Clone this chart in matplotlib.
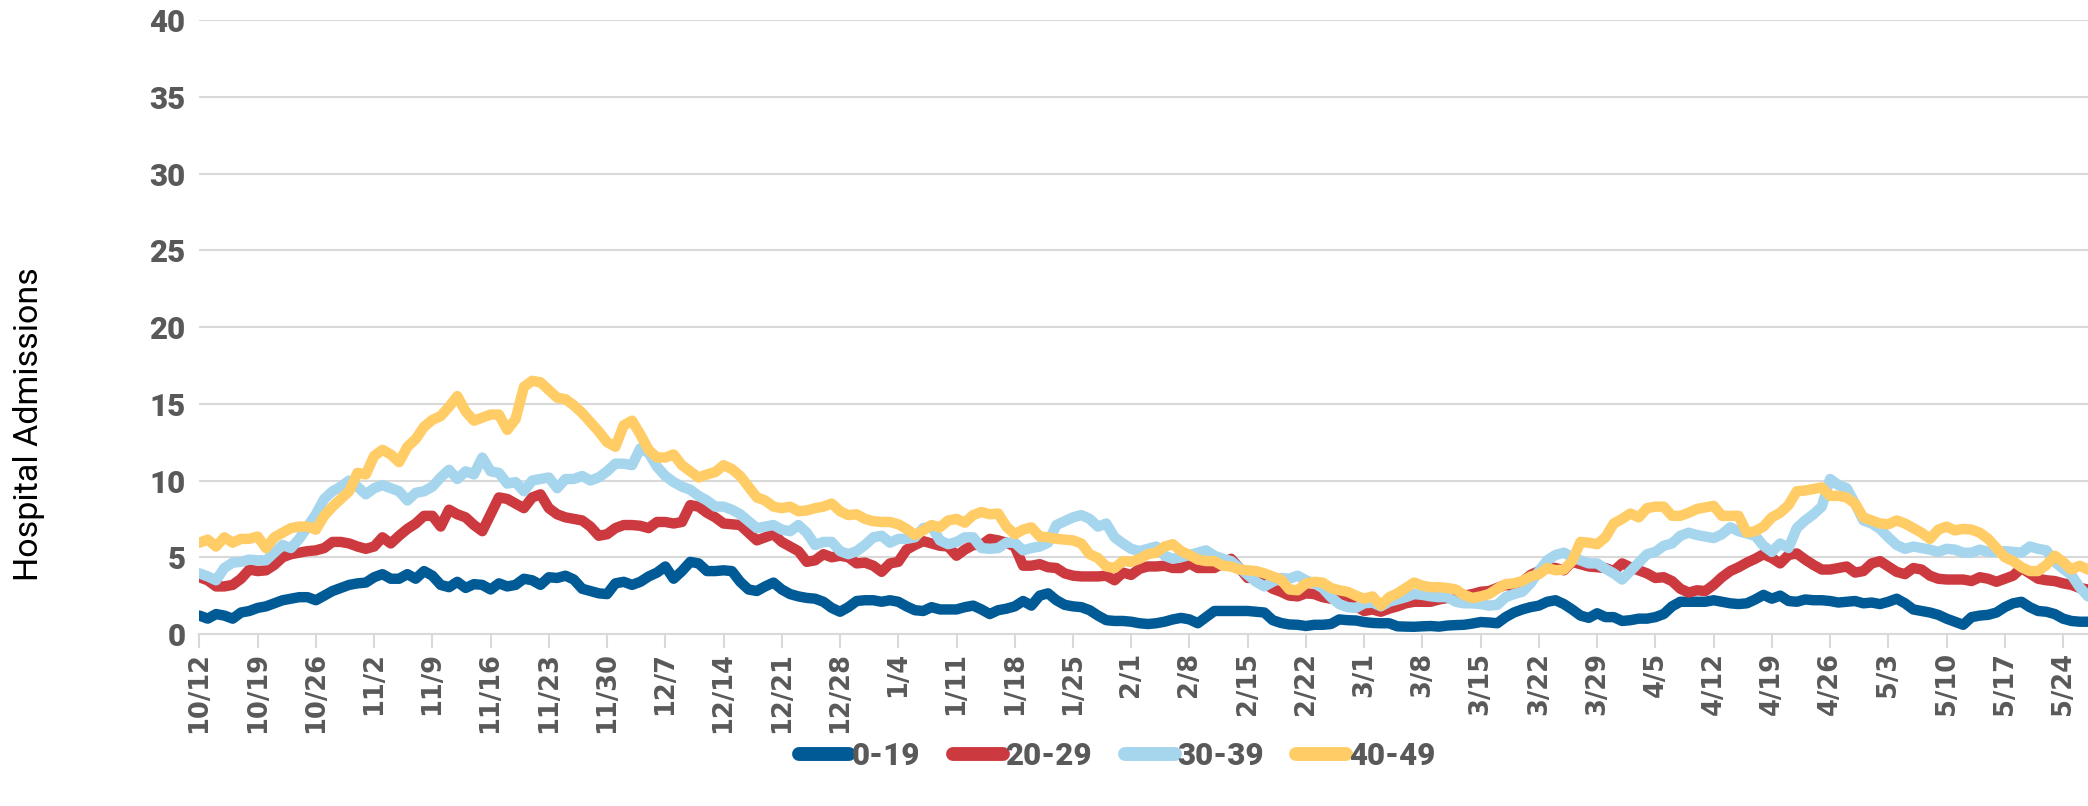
import numpy as np
import pandas as pd
import matplotlib
matplotlib.use("Agg")
import matplotlib.pyplot as plt

# daily admissions (7-day avg), 10/12 .. 5/27
start_date = "2020-10-12"
n_days = 228

age_0_19 = [
    1.2, 1.0, 1.3, 1.2, 1.0, 1.4, 1.5, 1.7, 1.8, 2.0, 2.2, 2.3, 2.4, 2.4, 2.2, 2.5, 2.8, 3.0, 3.2, 3.3,
    3.35, 3.7, 3.9, 3.6, 3.6, 3.9, 3.6, 4.1, 3.8, 3.2, 3.05, 3.4, 3.0,
    3.25, 3.2, 2.9, 3.3, 3.1, 3.2, 3.6, 3.5, 3.2, 3.7, 3.65, 3.8, 3.55, 2.95, 2.8, 2.65, 2.6, 3.3, 3.4, 3.2,
    3.4, 3.75, 4.0, 4.4, 3.6, 4.1, 4.7, 4.6, 4.1, 4.1, 4.15, 4.1,
    3.4, 2.9, 2.8, 3.1, 3.35, 2.9, 2.6, 2.45, 2.35, 2.3, 2.1, 1.7, 1.45, 1.75, 2.15, 2.2, 2.2, 2.1, 2.2, 2.1,
    1.8, 1.55, 1.5, 1.75, 1.6, 1.6, 1.6, 1.75, 1.85, 1.6, 1.3, 1.55, 1.65,
    1.8, 2.15, 1.85, 2.5, 2.65, 2.2, 1.9, 1.8, 1.75, 1.55, 1.2, 0.9, 0.85, 0.85, 0.8, 0.7, 0.65, 0.7, 0.8, 0.95,
    1.05, 0.95, 0.7, 1.1, 1.5, 1.5, 1.5, 1.5, 1.5, 1.45, 1.4,
    0.9, 0.72, 0.62, 0.6, 0.52, 0.6, 0.6, 0.65, 0.95, 0.9, 0.88, 0.78, 0.72, 0.7, 0.7, 0.5, 0.48, 0.47, 0.5, 0.52,
    0.48, 0.55, 0.58, 0.6, 0.68, 0.78, 0.75, 0.7, 1.1, 1.4, 1.6, 1.75, 1.85, 2.1,
    2.2, 1.95, 1.6, 1.2, 1.05, 1.35, 1.1, 1.1, 0.85, 0.9, 1.0, 1.0, 1.1, 1.3, 1.8, 2.1, 2.1, 2.1, 2.1, 2.2,
    2.1, 2.0, 1.95, 2.0, 2.25, 2.55, 2.3, 2.5, 2.15, 2.1, 2.25,
    2.2, 2.2, 2.15, 2.05, 2.1, 2.15, 2.0, 2.05, 1.95, 2.1, 2.3, 2.0, 1.6, 1.5, 1.4, 1.25, 1.0, 0.8, 0.6, 1.1,
    1.2, 1.25, 1.4, 1.75, 2.0, 2.1, 1.75, 1.5, 1.45, 1.3, 1.0, 0.85, 0.8, 0.8,
]

age_20_29 = [
    3.7, 3.5, 3.1, 3.1, 3.2, 3.6, 4.2, 4.1, 4.15, 4.5, 5.0, 5.2, 5.3, 5.4, 5.45, 5.6, 6.0, 6.0, 5.9, 5.7,
    5.55, 5.7, 6.3, 5.9, 6.4, 6.85, 7.2, 7.7, 7.7, 7.0, 8.1, 7.8,
    7.6, 7.1, 6.7, 7.8, 8.9, 8.8, 8.5, 8.2, 8.9, 9.1, 8.2, 7.8, 7.6, 7.5, 7.4, 7.0, 6.4, 6.5, 6.9, 7.1,
    7.1, 7.05, 6.9, 7.3, 7.3, 7.2, 7.3, 8.4, 8.3, 7.9, 7.6, 7.2, 7.15,
    7.1, 6.6, 6.1, 6.3, 6.5, 6.0, 5.7, 5.4, 4.7, 4.8, 5.2, 5.0, 5.1, 5.0, 4.6, 4.65, 4.45, 4.05, 4.6, 4.7,
    5.5, 5.8, 6.05, 5.9, 5.75, 5.7, 5.1, 5.5, 5.8, 5.8, 6.2, 6.1, 5.95,
    5.7, 4.45, 4.45, 4.55, 4.35, 4.3, 3.95, 3.8, 3.75, 3.75, 3.75, 3.8, 3.5, 4.0, 3.85, 4.25, 4.4, 4.4, 4.45, 4.3,
    4.3, 4.6, 4.3, 4.3, 4.3, 4.6, 4.9, 4.3, 3.65, 3.7, 3.3,
    2.95, 2.75, 2.5, 2.45, 2.65, 2.6, 2.4, 2.3, 2.35, 2.1, 1.8, 1.5, 1.6, 1.45, 1.65, 1.8, 2.0, 2.1, 2.1, 2.1,
    2.25, 2.35, 2.4, 2.5, 2.6, 2.75, 2.8, 3.0, 3.2, 3.1, 3.4, 3.85, 4.1, 4.35,
    4.3, 4.15, 4.7, 4.55, 4.4, 4.35, 4.3, 4.1, 4.6, 4.35, 4.15, 3.95, 3.65, 3.7, 3.45, 2.95, 2.7, 2.85, 2.8, 3.2,
    3.7, 4.1, 4.35, 4.65, 4.9, 5.2, 4.95, 4.6, 5.15, 5.25, 4.85,
    4.5, 4.2, 4.2, 4.3, 4.4, 4.0, 4.1, 4.6, 4.75, 4.4, 4.05, 3.9, 4.3, 4.2, 3.8, 3.6, 3.55, 3.55, 3.55, 3.45,
    3.7, 3.6, 3.4, 3.6, 3.8, 4.3, 3.95, 3.6, 3.5, 3.45, 3.3, 3.2, 3.0, 2.9,
]

age_30_39 = [
    3.95, 3.75, 3.5, 4.3, 4.65, 4.7, 4.85, 4.8, 4.8, 5.3, 5.8, 5.6, 6.2, 7.0, 7.8, 8.8, 9.3, 9.6, 10.0, 9.6,
    9.1, 9.5, 9.7, 9.5, 9.3, 8.7, 9.2, 9.3, 9.6, 10.2, 10.7, 10.1,
    10.6, 10.4, 11.5, 10.6, 10.5, 9.8, 9.9, 9.3, 10.0, 10.1, 10.2, 9.5, 10.1, 10.1, 10.3, 10.0, 10.2, 10.6, 11.1, 11.1,
    11.0, 12.1, 11.8, 10.9, 10.3, 9.9, 9.6, 9.4, 9.0, 8.7, 8.3, 8.3, 8.1,
    7.8, 7.35, 6.9, 7.0, 7.1, 6.8, 6.7, 7.1, 6.6, 5.8, 6.0, 6.0, 5.4, 5.2, 5.4, 5.8, 6.3, 6.4, 5.95, 6.2,
    6.2, 6.3, 6.9, 7.0, 6.1, 5.85, 6.0, 6.3, 6.3, 5.6, 5.55, 5.6, 5.95,
    5.95, 5.45, 5.6, 5.7, 5.95, 7.1, 7.35, 7.6, 7.75, 7.5, 7.0, 7.2, 6.3, 5.9, 5.55, 5.4, 5.55, 5.7, 5.1, 4.9,
    5.0, 5.15, 5.3, 5.45, 5.1, 4.9, 4.75, 4.3, 3.85, 3.4, 3.1,
    3.4, 3.65, 3.6, 3.8, 3.5, 3.3, 3.0, 2.4, 1.95, 1.75, 1.7, 2.0, 2.05, 1.8, 2.1, 2.25, 2.4, 2.6, 2.55, 2.45,
    2.4, 2.4, 2.1, 2.0, 2.0, 1.95, 1.85, 1.9, 2.4, 2.6, 2.75, 3.3, 4.1, 4.8,
    5.15, 5.3, 5.0, 4.8, 4.6, 4.6, 4.25, 3.95, 3.55, 4.1, 4.65, 5.2, 5.35, 5.75, 5.9, 6.4, 6.6, 6.45, 6.35, 6.25,
    6.5, 6.95, 6.7, 6.55, 6.4, 5.75, 5.35, 5.9, 5.6, 6.9, 7.4,
    7.8, 8.3, 10.1, 9.7, 9.5, 8.5, 7.4, 7.2, 6.85, 6.3, 5.8, 5.55, 5.7, 5.6, 5.5, 5.35, 5.55, 5.5, 5.3, 5.3,
    5.5, 5.35, 5.35, 5.4, 5.35, 5.3, 5.7, 5.55, 5.45, 4.7, 4.25, 3.85, 3.05, 2.45,
]

age_40_49 = [
    5.95, 6.15, 5.7, 6.3, 5.95, 6.2, 6.2, 6.35, 5.6, 6.3, 6.6, 6.9, 7.0, 7.0, 6.8, 7.7, 8.3, 8.8, 9.3, 10.5,
    10.4, 11.6, 12.0, 11.7, 11.2, 12.2, 12.7, 13.5, 13.95, 14.2, 14.8, 15.5,
    14.5, 13.9, 14.1, 14.3, 14.3, 13.3, 14.0, 16.1, 16.5, 16.4, 15.9, 15.4, 15.3, 14.9, 14.4, 13.8, 13.2, 12.5, 12.2, 13.6,
    13.9, 13.0, 12.0, 11.5, 11.5, 11.7, 11.0, 10.6, 10.2, 10.4, 10.55, 11.0, 10.75,
    10.3, 9.6, 8.9, 8.7, 8.3, 8.2, 8.3, 8.0, 8.05, 8.2, 8.3, 8.5, 8.0, 7.75, 7.8, 7.5, 7.35, 7.3, 7.3, 7.15,
    6.85, 6.45, 6.75, 7.1, 6.95, 7.4, 7.5, 7.25, 7.75, 7.95, 7.8, 7.85, 7.0,
    6.5, 6.8, 6.95, 6.35, 6.3, 6.2, 6.15, 6.1, 5.9, 5.2, 4.95, 4.4, 4.3, 4.75, 4.7, 4.9, 5.2, 5.3, 5.7, 5.85,
    5.4, 5.15, 4.85, 4.75, 4.75, 4.45, 4.4, 4.2, 4.15, 4.1, 3.95,
    3.75, 3.55, 2.9, 2.85, 3.3, 3.4, 3.35, 3.0, 2.85, 2.75, 2.5, 2.3, 2.45, 1.85, 2.4, 2.65, 3.0, 3.35, 3.15, 3.05,
    3.05, 3.0, 2.9, 2.55, 2.35, 2.45, 2.6, 2.95, 3.25, 3.3, 3.45, 3.75, 3.9, 4.3,
    4.15, 4.2, 4.75, 6.0, 5.95, 5.85, 6.3, 7.2, 7.5, 7.85, 7.6, 8.2, 8.3, 8.3, 7.7, 7.7, 7.9, 8.15, 8.25, 8.35,
    7.7, 7.7, 7.7, 6.6, 6.7, 7.0, 7.6, 7.9, 8.4, 9.3, 9.35,
    9.45, 9.55, 9.0, 9.0, 8.9, 8.5, 7.6, 7.4, 7.2, 7.15, 7.4, 7.2, 6.9, 6.6, 6.2, 6.8, 7.0, 6.75, 6.85, 6.8,
    6.6, 6.2, 5.6, 5.0, 4.75, 4.35, 4.1, 4.1, 4.5, 5.1, 4.7, 4.2, 4.45, 4.2,
]

series_names = ["0-19", "20-29", "30-39", "40-49"]
series_colors = ["#005A96", "#CC3A40", "#A6D5EE", "#FFCC66"]

dates = pd.date_range(start_date, periods=n_days, freq="D")
days = np.arange(n_days)
tick_days = days[::7]
tick_labels = [f"{d.month}/{d.day}" for d in dates[::7]]

text_gray = "#595959"
grid_gray = "#D9D9D9"

fig = plt.figure(figsize=(20.88, 8.06), dpi=100)
ax = fig.add_axes([0.0955, 0.2134, 0.9045, 0.7616])

for vals, name, col in zip([age_0_19, age_20_29, age_30_39, age_40_49], series_names, series_colors):
    assert len(vals) == n_days
    ax.plot(days, vals, color=col, lw=7.5, label=name,
            solid_joinstyle="round", solid_capstyle="round")

ax.set_xlim(0, n_days - 1)
ax.set_ylim(0, 40)
ax.set_yticks(np.arange(0, 41, 5))
ax.yaxis.grid(True, color=grid_gray, lw=1.5)
ax.set_axisbelow(True)

for s in ["top", "right", "left"]:
    ax.spines[s].set_visible(False)
ax.spines["bottom"].set_color(grid_gray)
ax.spines["bottom"].set_linewidth(1.5)

ax.set_xticks(tick_days)
ax.set_xticklabels(tick_labels, rotation=90, fontsize=18.5, fontweight="bold",
                   family="DejaVu Sans", color=text_gray)
ax.tick_params(axis="x", length=10, width=1.5, color=grid_gray, pad=3)
ax.tick_params(axis="y", length=0, pad=10, labelsize=22.5, labelcolor=text_gray)
for lab in ax.get_yticklabels():
    lab.set_fontfamily("Roboto")
    lab.set_fontweight("black")

fig.text(0.014, 0.474, "Hospital Admissions", rotation=90, ha="center", va="center",
         fontsize=24.5, family="Roboto", color="black")

leg = fig.legend(loc="center", bbox_to_anchor=(0.535, 0.062), ncol=4, frameon=False,
                 handlelength=1.6, handletextpad=0.08, columnspacing=1.05,
                 prop={"family": "Roboto", "weight": "black", "size": 22.5})
for h in leg.legend_handles:
    h.set_linewidth(10)
for t in leg.get_texts():
    t.set_color(text_gray)

fig.savefig("out.png", dpi=100)
